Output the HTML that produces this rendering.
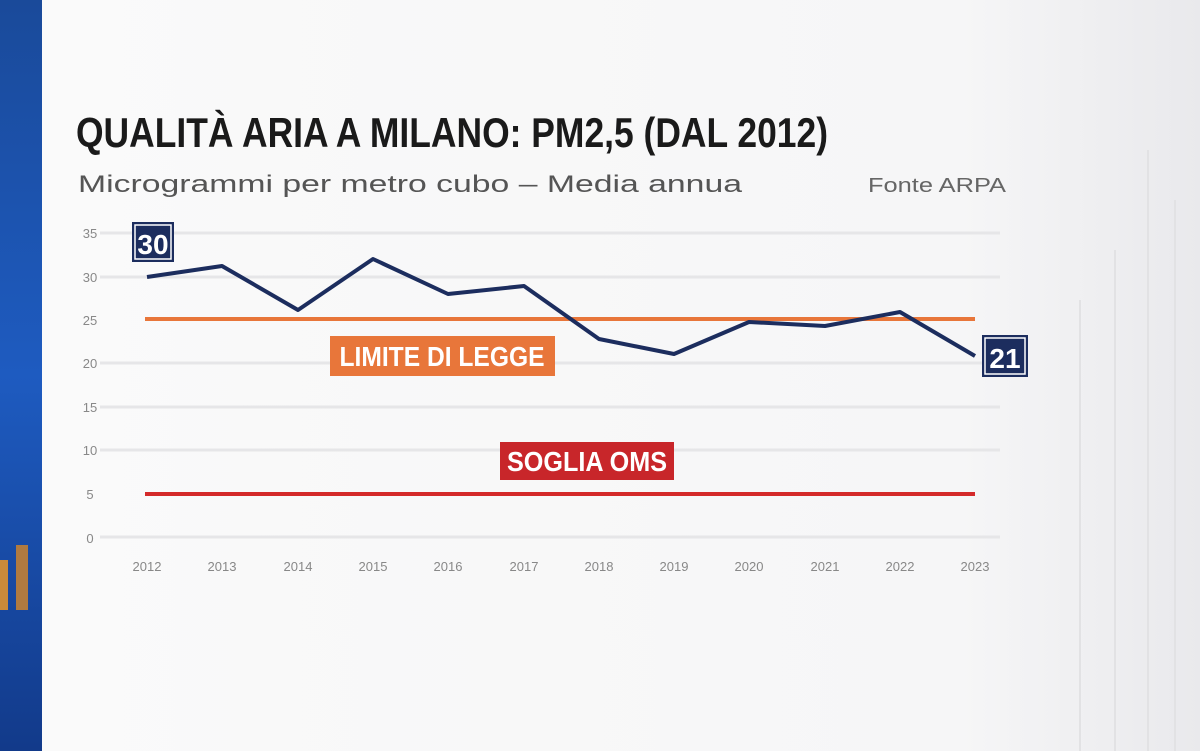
<!DOCTYPE html>
<html><head><meta charset="utf-8"><style>
body{margin:0;width:1200px;height:751px;overflow:hidden;background:#f4f4f5;font-family:"Liberation Sans",sans-serif;}
</style></head><body>
<svg width="1200" height="751" viewBox="0 0 1200 751" style="position:absolute;left:0;top:0">
<defs>
<linearGradient id="bl" x1="0" y1="0" x2="0" y2="1"><stop offset="0" stop-color="#1a4a9a"/><stop offset="0.5" stop-color="#1e5bc0"/><stop offset="1" stop-color="#123a8a"/></linearGradient>
<linearGradient id="bg" x1="0" y1="0" x2="1" y2="0"><stop offset="0" stop-color="#fafafa"/><stop offset="0.8" stop-color="#f6f6f7"/><stop offset="1" stop-color="#e9e9ec"/></linearGradient>
</defs>
<rect x="0" y="0" width="1200" height="751" fill="url(#bg)"/>
<rect x="0" y="0" width="42" height="751" fill="url(#bl)"/>
<rect x="0" y="560" width="8" height="50" fill="#c98a3a"/>
<rect x="16" y="545" width="12" height="65" fill="#b07a40"/>
<g stroke="#e2e2e4" stroke-width="2">
<line x1="1080" y1="300" x2="1080" y2="751"/><line x1="1115" y1="250" x2="1115" y2="751"/><line x1="1148" y1="150" x2="1148" y2="751"/><line x1="1175" y1="200" x2="1175" y2="751"/>
</g>
<text x="76" y="147" font-family="Liberation Sans Narrow, Liberation Sans, sans-serif" font-weight="bold" font-size="42" fill="#1a1a1a" textLength="752" lengthAdjust="spacingAndGlyphs">QUALITÀ ARIA A MILANO: PM2,5 (DAL 2012)</text>
<text x="78" y="192" font-size="24" fill="#555" textLength="664" lengthAdjust="spacingAndGlyphs">Microgrammi per metro cubo – Media annua</text>
<text x="868" y="192" font-size="20" fill="#666" textLength="138" lengthAdjust="spacingAndGlyphs">Fonte ARPA</text>
<g stroke="#e6e6e8" stroke-width="3">
<line x1="100" y1="233" x2="1000" y2="233"/><line x1="100" y1="277" x2="1000" y2="277"/><line x1="100" y1="363" x2="1000" y2="363"/><line x1="100" y1="407" x2="1000" y2="407"/><line x1="100" y1="450" x2="1000" y2="450"/><line x1="100" y1="537" x2="1000" y2="537"/>
</g>
<g font-size="13" fill="#888" text-anchor="middle">
<text x="90" y="238">35</text><text x="90" y="282">30</text><text x="90" y="325">25</text><text x="90" y="368">20</text><text x="90" y="412">15</text><text x="90" y="455">10</text><text x="90" y="499">5</text><text x="90" y="543">0</text>
<text x="147" y="571">2012</text><text x="222" y="571">2013</text><text x="298" y="571">2014</text><text x="373" y="571">2015</text><text x="448" y="571">2016</text><text x="524" y="571">2017</text><text x="599" y="571">2018</text><text x="674" y="571">2019</text><text x="749" y="571">2020</text><text x="825" y="571">2021</text><text x="900" y="571">2022</text><text x="975" y="571">2023</text>
</g>
<line x1="145" y1="319" x2="975" y2="319" stroke="#e8763a" stroke-width="4"/>
<line x1="145" y1="494" x2="975" y2="494" stroke="#d42a2a" stroke-width="4"/>
<polyline fill="none" stroke="#1c2d5e" stroke-width="4" stroke-linejoin="round" points="147,277 222,266 298,310 373,259 448,294 524,286 599,339 674,354 749,322 825,326 900,312 975,356"/>
<rect x="330" y="336" width="225" height="40" fill="#e8763a"/>
<text x="442" y="366" text-anchor="middle" font-family="Liberation Sans Narrow, Liberation Sans, sans-serif" font-weight="bold" font-size="28" fill="#fff" textLength="205" lengthAdjust="spacingAndGlyphs">LIMITE DI LEGGE</text>
<rect x="500" y="442" width="174" height="38" fill="#c8262a"/>
<text x="587" y="471" text-anchor="middle" font-family="Liberation Sans Narrow, Liberation Sans, sans-serif" font-weight="bold" font-size="28" fill="#fff" textLength="160" lengthAdjust="spacingAndGlyphs">SOGLIA OMS</text>
<rect x="132" y="222" width="42" height="40" fill="#1c2d5e"/>
<rect x="135" y="225" width="36" height="34" fill="none" stroke="#fff" stroke-width="1.5"/>
<text x="153" y="254" text-anchor="middle" font-weight="bold" font-size="28" fill="#fff">30</text>
<rect x="982" y="335" width="46" height="42" fill="#1c2d5e"/>
<rect x="985" y="338" width="40" height="36" fill="none" stroke="#fff" stroke-width="1.5"/>
<text x="1005" y="368" text-anchor="middle" font-weight="bold" font-size="28" fill="#fff">21</text>
</svg>
</body></html>
